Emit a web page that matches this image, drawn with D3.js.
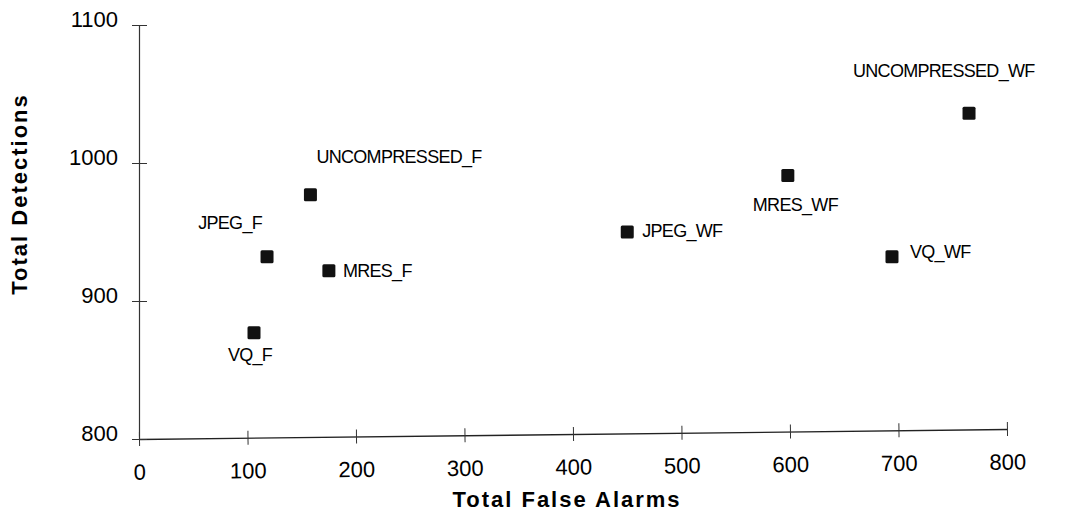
<!DOCTYPE html>
<html>
<head>
<meta charset="utf-8">
<script src="https://cdn.jsdelivr.net/npm/d3@7"></script>
<style>
  body { margin: 0; background: #fff; }
  svg { display: block; font-family: "Liberation Sans", Arial, sans-serif; }
  .tick text { fill: #000; font-family: "Liberation Sans", Arial, sans-serif; font-size: 22px; }
  .pt-label { font-size: 18px; letter-spacing: -0.7px; fill: #000; }
  .axis-title { font-size: 22px; font-weight: bold; letter-spacing: 2px; fill: #000; }
</style>
</head>
<body>
<script>
// data
var names = ["UNCOMPRESSED_F", "JPEG_F", "MRES_F", "VQ_F",
             "JPEG_WF", "MRES_WF", "UNCOMPRESSED_WF", "VQ_WF"];
var falseAlarms = [158, 118, 175, 106, 450, 598, 765, 694];
var detections  = [977, 932, 922, 877, 950, 991, 1036, 932];
var xTicks = [0, 100, 200, 300, 400, 500, 600, 700, 800];
var yTicks = [800, 900, 1000, 1100];

// where each label sits relative to its marker
var labelPlace = {
  "UNCOMPRESSED_F":  { dx: 6,    dy: -38, anchor: "start" },
  "JPEG_F":          { dx: -5,   dy: -34, anchor: "end" },
  "MRES_F":          { dx: 14,   dy: 0,   anchor: "start" },
  "VQ_F":            { dx: -4,   dy: 22,  anchor: "middle" },
  "JPEG_WF":         { dx: 15,   dy: -1,  anchor: "start" },
  "MRES_WF":         { dx: -35,  dy: 29,  anchor: "start" },
  "UNCOMPRESSED_WF": { dx: -116, dy: -43, anchor: "start" },
  "VQ_WF":           { dx: 18,   dy: -5,  anchor: "start" }
};

var width = 1066, height = 516;
var margin = { top: 25, right: 59, bottom: 77, left: 139 };

var svg = d3.select("body").append("svg")
  .attr("width", width)
  .attr("height", height);

var x = d3.scaleLinear().domain([0, 800]).range([margin.left, width - margin.right]);
var y = d3.scaleLinear().domain([800, 1100]).range([height - margin.bottom, margin.top]);

var points = names.map(function(n, i) {
  return { name: n, fa: falseAlarms[i], det: detections[i] };
});

// x axis (the scan is a little tilted)
var tilt = Math.atan2(-10, x(800) - x(0)) * 180 / Math.PI;
var xAxis = svg.append("g")
  .attr("class", "x-axis")
  .attr("transform", "translate(0," + y(800) + ") rotate(" + tilt + "," + x(0) + ",0)")
  .call(d3.axisBottom(x).tickValues(xTicks).tickFormat(d3.format("d"))
    .tickSizeInner(7).tickSizeOuter(0).tickPadding(18));
xAxis.select(".domain").attr("stroke", "#222").attr("stroke-width", 1.3);
xAxis.selectAll(".tick line").attr("y1", -7).attr("stroke", "#333");

// y axis
var yAxis = svg.append("g")
  .attr("class", "y-axis")
  .attr("transform", "translate(" + x(0) + ",0)")
  .call(d3.axisLeft(y).tickValues(yTicks).tickFormat(d3.format("d"))
    .tickSizeInner(7).tickSizeOuter(0).tickPadding(14));
yAxis.select(".domain").attr("stroke", "#333").attr("stroke-width", 1.2);
yAxis.selectAll(".tick line").attr("x1", -7).attr("x2", 8).attr("stroke", "#333");
yAxis.selectAll(".tick text").attr("y", -6);

// markers
svg.append("g").selectAll("rect")
  .data(points)
  .join("rect")
  .attr("x", function(d) { return x(d.fa) - 6.5; })
  .attr("y", function(d) { return y(d.det) - 6.5; })
  .attr("width", 13)
  .attr("height", 13)
  .attr("rx", 1.5)
  .attr("fill", "#111");

// point labels
svg.append("g").selectAll("text")
  .data(points)
  .join("text")
  .attr("class", "pt-label")
  .attr("x", function(d) { return x(d.fa) + labelPlace[d.name].dx; })
  .attr("y", function(d) { return y(d.det) + labelPlace[d.name].dy; })
  .attr("dy", "0.35em")
  .attr("text-anchor", function(d) { return labelPlace[d.name].anchor; })
  .text(function(d) { return d.name; });

// axis titles
svg.append("text")
  .attr("class", "axis-title")
  .attr("x", 567)
  .attr("y", 507)
  .attr("text-anchor", "middle")
  .text("Total False Alarms");

svg.append("text")
  .attr("class", "axis-title")
  .attr("transform", "translate(27,194) rotate(-90)")
  .attr("text-anchor", "middle")
  .text("Total Detections");
</script>
</body>
</html>
